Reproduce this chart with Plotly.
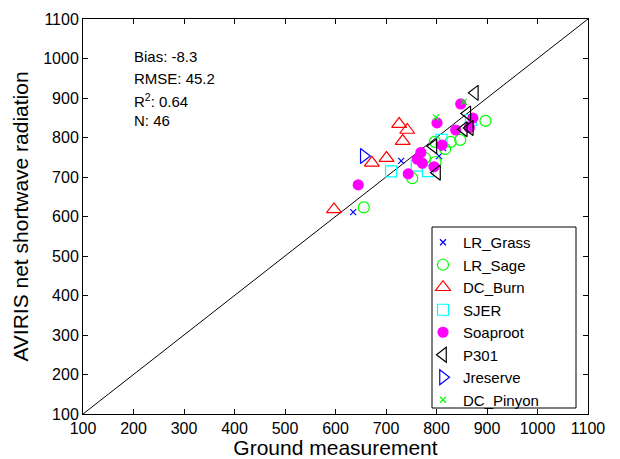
import plotly.graph_objects as go

# Ground measurement (x) and AVIRIS net shortwave radiation (y) per site
lr_grass_x = [730, 805, 635, 813, 866]
lr_grass_y = [741, 753, 611, 773, 832]

lr_sage_x = [897, 847, 828, 797, 817, 798, 752, 656, 777]
lr_sage_y = [842, 794, 789, 789, 771, 738, 697, 623, 748]

dc_burn_x = [726, 742, 733, 672, 701, 597]
dc_burn_y = [834, 819, 791, 736, 748, 618]

sjer_x = [868, 810, 761, 783, 710]
sjer_y = [844, 794, 729, 715, 714]

soaproot_x = [848, 872, 801, 838, 865, 811, 769, 762, 772, 795, 744, 645]
soaproot_y = [885, 849, 837, 819, 825, 781, 762, 745, 735, 726, 708, 680]

p301_x = [876, 861, 854, 794, 801, 866]
p301_y = [913, 861, 821, 778, 711, 824]

jreserve_x = [656]
jreserve_y = [753]

dc_pinyon_x = [854, 799]
dc_pinyon_y = [890, 851]

one_to_one = [100, 1100]

stats_lines = ["Bias: -8.3", "RMSE: 45.2", "R<sup>2</sup>: 0.64", "N: 46"]

FONT = "Liberation Sans, Arial, Helvetica, sans-serif"

fig = go.Figure()

fig.add_trace(go.Scatter(x=one_to_one, y=one_to_one, mode="lines",
                         line=dict(color="black", width=1), showlegend=False,
                         hoverinfo="skip"))

series = [
    ("LR_Grass", lr_grass_x, lr_grass_y, "x-thin-open", "#0000ff", 6),
    ("LR_Sage", lr_sage_x, lr_sage_y, "circle-open", "#00ff00", 11),
    ("DC_Burn", dc_burn_x, dc_burn_y, "triangle-up-open", "#ff0000", 13),
    ("SJER", sjer_x, sjer_y, "square-open", "#00ffff", 11),
    ("Soaproot", soaproot_x, soaproot_y, "circle", "#ff00ff", 10),
    ("P301", p301_x, p301_y, "triangle-left-open", "#000000", 13),
    ("Jreserve", jreserve_x, jreserve_y, "triangle-right-open", "#0000ff", 13),
    ("DC_Pinyon", dc_pinyon_x, dc_pinyon_y, "x-thin-open", "#00ff00", 6),
]

for name, xs, ys, sym, col, sz in series:
    fig.add_trace(go.Scatter(
        x=xs, y=ys, mode="markers", name=name,
        marker=dict(symbol=sym, size=sz, color=col,
                    line=dict(color=col, width=1.2)),
    ))

axis_common = dict(
    range=[100, 1100], dtick=100, tick0=100,
    ticks="inside", ticklen=5, tickwidth=1, tickcolor="black",
    showline=True, linecolor="black", linewidth=1, mirror="allticks",
    showgrid=False, zeroline=False, automargin=False,
    tickfont=dict(family=FONT, size=16, color="black"),
)

fig.update_xaxes(title=dict(text="Ground measurement", standoff=0,
                            font=dict(family=FONT, size=21, color="black")),
                 **axis_common)
fig.update_yaxes(title=dict(text="AVIRIS net shortwave radiation", standoff=8,
                            font=dict(family=FONT, size=21, color="black")),
                 **axis_common)

# plot area spans x 83..588 px, y 19..414 px
def px_x(p):
    return (p - 83) / 505.0

def px_y(p):
    return (414 - p) / 395.0

for line, ypix in zip(stats_lines, [57, 78, 100, 120]):
    fig.add_annotation(text=line, xref="paper", yref="paper",
                       x=px_x(132), y=px_y(ypix), xanchor="left",
                       yanchor="middle", align="left", showarrow=False,
                       font=dict(family=FONT, size=15, color="black"))

# legend box
fig.add_shape(type="rect", xref="paper", yref="paper",
              x0=px_x(432), x1=px_x(576), y0=px_y(408), y1=px_y(227),
              line=dict(color="black", width=1), fillcolor="white",
              layer="above")

fig.update_layout(
    width=620, height=459,
    margin=dict(l=83, r=32, t=19, b=45),
    paper_bgcolor="white", plot_bgcolor="white",
    font=dict(family=FONT, color="black"),
    legend=dict(x=px_x(423), y=px_y(226), xanchor="left", yanchor="top",
                bgcolor="rgba(0,0,0,0)", borderwidth=0,
                font=dict(family=FONT, size=15, color="black"),
                tracegroupgap=0, itemwidth=30),
)

fig.write_html("out.html",
               config={"displayModeBar": False},
               post_script="document.body.style.margin='0';"
                           "document.body.style.padding='0';")
